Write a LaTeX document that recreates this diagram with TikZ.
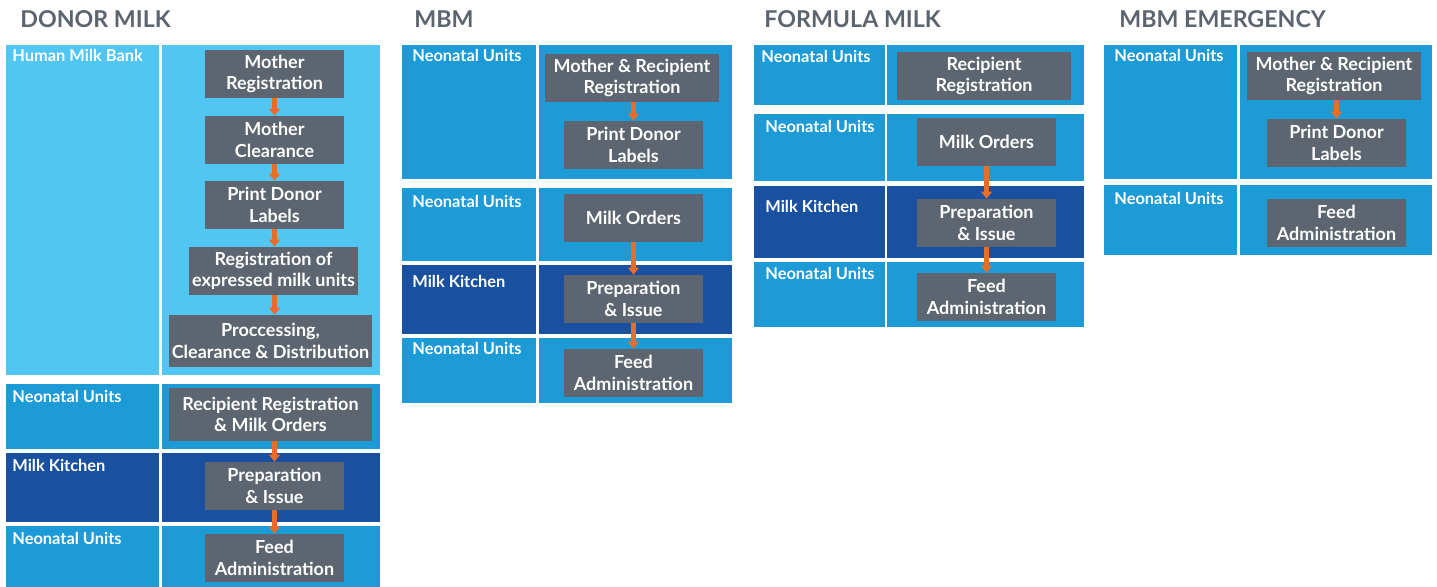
\documentclass[tikz,border=0pt]{standalone}
\usepackage{fontspec}
\setmainfont{Lato}
\usetikzlibrary{arrows.meta}
\definecolor{hmb}{RGB}{82,198,242}
\definecolor{neo}{RGB}{29,155,215}
\definecolor{kitchen}{RGB}{26,80,160}
\definecolor{stepgray}{RGB}{93,101,112}
\definecolor{pfeil}{RGB}{230,110,40}
\definecolor{titlegray}{RGB}{92,100,112}

\begin{document}
\begin{tikzpicture}[x=0.5pt,y=-0.5pt,
	stepbox/.style={fill=stepgray,text=white,align=center,inner sep=0pt,minimum width=69.5pt,minimum height=24pt,font=\bfseries\fontsize{9}{10.8}\selectfont},
	lane/.style={anchor=base west,text=white,inner sep=0pt,font=\bfseries\fontsize{8.2}{10}\selectfont},
	heading/.style={anchor=base west,text=titlegray,inner sep=0pt,font=\bfseries\fontsize{11.6}{14}\selectfont},
	flow/.style={pfeil,line width=2.5pt,-{Triangle[width=5.5pt,length=3.5pt]}}]
	\useasboundingbox (0,0) rectangle (1437,587);

	% donor milk
	\node[heading] (T1) at (20,28) {DONOR MILK};
	\fill[hmb] (6,45) rectangle (159,375);
	\fill[hmb] (162,45) rectangle (380,375);
	\fill[neo] (6,384) rectangle (159,449);
	\fill[neo] (162,384) rectangle (380,449);
	\fill[kitchen] (6,453) rectangle (159,522);
	\fill[kitchen] (162,453) rectangle (380,522);
	\fill[neo] (6,526) rectangle (159,587);
	\fill[neo] (162,526) rectangle (380,587);
	\node[lane] (L11) at (12,62) {Human Milk Bank};
	\node[lane] (L12) at (12,403) {Neonatal Units};
	\node[lane] (L13) at (12,472) {Milk Kitchen};
	\node[lane] (L14) at (12,545) {Neonatal Units};
	\node[stepbox] (MReg1) at (274.5,74) {Mother\\Registration};
	\node[stepbox] (MClr1) at (274.5,140) {Mother\\Clearance};
	\node[stepbox] (PDL1) at (274.5,205) {Print Donor\\Labels};
	\node[stepbox,minimum width=84.5pt] (REx1) at (273.5,271) {Registration of\\expressed milk units};
	\node[stepbox,minimum width=101.5pt,minimum height=26pt] (Proc1) at (270.5,341) {Proccessing,\\Clearance \& Distribution};
	\node[stepbox,minimum width=101.5pt,minimum height=26.5pt] (RRMO1) at (270.5,414.5) {Recipient Registration\\\& Milk Orders};
	\node[stepbox] (Prep1) at (274.5,486) {Preparation\\\& Issue};
	\node[stepbox] (Feed1) at (274.5,558) {Feed\\Administration};
	\draw[flow] (MReg1) -- (MClr1);
	\draw[flow] (MClr1) -- (PDL1);
	\draw[flow] (PDL1.south) -- (PDL1.south |- REx1.north);
	\draw[flow] (PDL1.south |- REx1.south) -- (PDL1.south |- Proc1.north);
	\draw[flow] (Prep1.north |- RRMO1.south) -- (Prep1.north);
	\draw[flow] (Prep1) -- (Feed1);

	% mbm
	\node[heading] (T2) at (414,28) {MBM};
	\fill[neo] (402,45) rectangle (536,179);
	\fill[neo] (539,45) rectangle (732,179);
	\fill[neo] (402,188) rectangle (536,261);
	\fill[neo] (539,188) rectangle (732,261);
	\fill[kitchen] (402,265) rectangle (536,334);
	\fill[kitchen] (539,265) rectangle (732,334);
	\fill[neo] (402,338) rectangle (536,403);
	\fill[neo] (539,338) rectangle (732,403);
	\node[lane] (L21) at (412,62) {Neonatal Units};
	\node[lane] (L22) at (412,208) {Neonatal Units};
	\node[lane] (L23) at (412,288) {Milk Kitchen};
	\node[lane] (L24) at (412,355) {Neonatal Units};
	\node[stepbox,minimum width=87pt] (MRR2) at (632,78) {Mother \& Recipient\\Registration};
	\node[stepbox] (PDL2) at (633.5,145) {Print Donor\\Labels};
	\node[stepbox] (MO2) at (633.5,218) {Milk Orders};
	\node[stepbox] (Prep2) at (633.5,299) {Preparation\\\& Issue};
	\node[stepbox] (Feed2) at (633.5,373) {Feed\\Administration};
	\draw[flow] (PDL2.north |- MRR2.south) -- (PDL2.north);
	\draw[flow] (MO2) -- (Prep2);
	\draw[flow] (Prep2) -- (Feed2);

	% formula milk
	\node[heading] (T3) at (764,28) {FORMULA MILK};
	\fill[neo] (754,45) rectangle (885,105);
	\fill[neo] (887,45) rectangle (1084,105);
	\fill[neo] (754,114) rectangle (885,181);
	\fill[neo] (887,114) rectangle (1084,181);
	\fill[kitchen] (754,186) rectangle (885,258);
	\fill[kitchen] (887,186) rectangle (1084,258);
	\fill[neo] (754,262) rectangle (885,327);
	\fill[neo] (887,262) rectangle (1084,327);
	\node[lane] (L31) at (761,63) {Neonatal Units};
	\node[lane] (L32) at (765,133) {Neonatal Units};
	\node[lane] (L33) at (765,213) {Milk Kitchen};
	\node[lane] (L34) at (765,280) {Neonatal Units};
	\node[stepbox,minimum width=87pt] (RR3) at (984,76) {Recipient\\Registration};
	\node[stepbox] (MO3) at (986.5,142) {Milk Orders};
	\node[stepbox] (Prep3) at (986.5,223) {Preparation\\\& Issue};
	\node[stepbox] (Feed3) at (986.5,297) {Feed\\Administration};
	\draw[flow] (MO3) -- (Prep3);
	\draw[flow] (Prep3) -- (Feed3);

	% mbm emergency
	\node[heading] (T4) at (1119,28) {MBM EMERGENCY};
	\fill[neo] (1104,45) rectangle (1237,179);
	\fill[neo] (1240,45) rectangle (1432,179);
	\fill[neo] (1104,185) rectangle (1237,255);
	\fill[neo] (1240,185) rectangle (1432,255);
	\node[lane] (L41) at (1114,62) {Neonatal Units};
	\node[lane] (L42) at (1114,205) {Neonatal Units};
	\node[stepbox,minimum width=87pt] (MRR4) at (1334,76) {Mother \& Recipient\\Registration};
	\node[stepbox] (PDL4) at (1336.5,143) {Print Donor\\Labels};
	\node[stepbox] (Feed4) at (1336.5,223) {Feed\\Administration};
	\draw[flow] (PDL4.north |- MRR4.south) -- (PDL4.north);
\end{tikzpicture}
\end{document}
